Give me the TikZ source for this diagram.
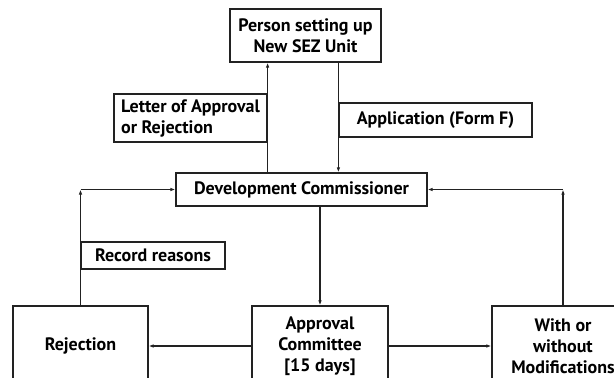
\documentclass[tikz,border=0pt]{standalone}
\usepackage{fontspec}
\setmainfont{PT Sans}
\usepackage{tikz}
\usetikzlibrary{arrows.meta,positioning,calc}
\definecolor{cInk}{HTML}{222222}
\tikzset{
  box/.style   = {draw=cInk, line width=1.2pt, align=center, inner sep=2pt,
                  font=\fontsize{18}{21}\selectfont\bfseries, text=black},
  lbl/.style   = {box, align=left},
  flow/.style  = {-{Latex[length=5pt,width=3.5pt]}, draw=cInk, line width=1.2pt},
}
\begin{document}
\begin{tikzpicture}[x=1pt, y=-1pt]
  \clip (0,0) rectangle (614,378);
  \node[box, minimum width=151pt, minimum height=53pt] (person) at (305.5,35.5)
    {Person setting up\\New SEZ Unit};
  \node[lbl, minimum width=153pt, minimum height=48pt] (letter) at (190.5,118)
    {Letter of Approval\\or Rejection};
  \node[box, minimum width=193pt, minimum height=34pt] (appl) at (435.5,120)
    {Application (Form F)};
  \node[box, minimum width=251pt, minimum height=33pt] (dc) at (301.5,189.5)
    {Development Commissioner};
  \node[box, minimum width=144pt, minimum height=27pt] (record) at (153,255.5)
    {Record reasons};
  \node[box, minimum width=135pt, minimum height=80pt] (rej) at (80.5,346)
    {Rejection};
  \node[box, minimum width=136pt, minimum height=80pt] (appc) at (320,346)
    {Approval\\Committee\\{}[15 days]};
  \node[box, minimum width=142pt, minimum height=80pt] (with) at (563,346)
    {With or\\without\\Modifications};
  \coordinate (lcorner) at (rej.north |- dc.west);
  \coordinate (rcorner) at (with.north |- dc.east);
  \draw[flow] (letter.east |- dc.north) -- (letter.east |- person.south);
  \draw[flow] (appl.west |- person.south) -- (appl.west |- dc.north);
  \draw[flow] (appc.north |- dc.south) -- (appc.north);
  \draw[flow] (appc.west) -- (rej.east);
  \draw[flow] (appc.east) -- (with.west);
  \draw[flow] (rej.north) -- (lcorner);
  \draw[flow] (lcorner) -- (dc.west);
  \draw[flow] (with.north) -- (rcorner);
  \draw[flow] (rcorner) -- (dc.east);
\end{tikzpicture}
\end{document}
